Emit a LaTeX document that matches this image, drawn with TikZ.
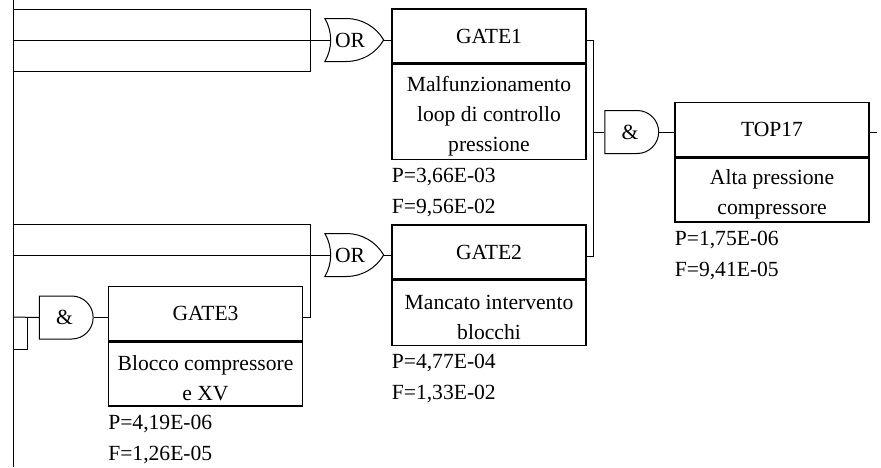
\documentclass[tikz,border=0pt]{standalone}
\usepackage{fontspec}
\setmainfont{Liberation Serif}
\usetikzlibrary{shapes.gates.logic.US}

\tikzset{
	head/.style={draw, line width=0.7pt, minimum width=97pt, minimum height=27pt, inner sep=0pt},
	desc/.style={draw, line width=0.7pt, minimum width=97pt, anchor=north, align=center, inner sep=0pt},
	prob/.style={anchor=north west, align=left, inner sep=0pt, yshift=-4pt, font=\fontsize{10.8}{15.5}\selectfont},
	orgate/.style={or gate US, draw, logic gate inputs=nnn, minimum width=28pt, minimum height=21.5pt, inner sep=0pt},
	andgate/.style={and gate US, draw, logic gate inputs=nnn, minimum width=26.5pt, minimum height=21.5pt, inner sep=0pt},
}

\begin{document}
\begin{tikzpicture}[x=0.5pt, y=-0.5pt, line width=0.5pt, font=\fontsize{10.8}{15}\selectfont]
	\useasboundingbox (0,0) rectangle (881,467);

	%left bus
	\coordinate (bustop) at (13,0);
	\coordinate (busbot) at (13,467);
	\draw (bustop) -- (busbot);

	%GATE1
	\node[orgate] (or1) at (350,40) {OR};
	\node[head] (gate1) at (489,36) {GATE1};
	\node[desc, minimum height=47.5pt] (gate1d) at (gate1.south) {\rule{0pt}{12pt}Malfunzionamento\\loop di controllo\\pressione};
	\node[prob] (gate1p) at (gate1d.south west) {P=3,66E-03\\F=9,56E-02};

	\coordinate (b1) at (13,9);
	\coordinate (b1m) at (13,40);
	\coordinate (b1b) at (13,71);
	\coordinate (j1) at (310,71);
	\draw (b1) -| (j1) -- (b1b);
	\draw (b1m) -- (or1.input 2);
	\draw (or1.output) -- (or1.output -| gate1.west);

	%GATE2
	\node[orgate] (or2) at (350,255) {OR};
	\node[head] (gate2) at (489,252) {GATE2};
	\node[desc, minimum height=32.5pt] (gate2d) at (gate2.south) {\rule{0pt}{12pt}Mancato intervento\\blocchi};
	\node[prob] (gate2p) at (gate2d.south west) {P=4,77E-04\\F=1,33E-02};

	%GATE3
	\node[andgate] (and3) at (64.5,317.5) {\&};
	\node[head] (gate3) at (205.5,313.5) {GATE3};
	\node[desc, minimum height=32pt] (gate3d) at (gate3.south) {\rule{0pt}{12pt}Blocco compressore\\e XV};
	\node[prob] (gate3p) at (gate3d.south west) {P=4,19E-06\\F=1,26E-05};

	\coordinate (b2) at (13,224);
	\coordinate (b2m) at (13,255);
	\coordinate (j2) at (310,317);
	\draw (b2) -| (j2) -- (j2 -| gate3.east);
	\draw (b2m) -- (or2.input 2);
	\draw (or2.output) -- (or2.output -| gate2.west);

	\coordinate (b3) at (13,317);
	\coordinate (b3b) at (13,349);
	\coordinate (k3) at (27,317);
	\draw (b3) -- (and3.input 2);
	\draw (b3b) -| (k3);
	\draw (and3.output) -- (and3.output -| gate3.west);

	%TOP17
	\node[andgate] (and1) at (630,132) {\&};
	\node[head] (top17) at (772,129.5) {TOP17};
	\node[desc, minimum height=32pt] (top17d) at (top17.south) {\rule{0pt}{12pt}Alta pressione\\compressore};
	\node[prob] (top17p) at (top17d.south west) {P=1,75E-06\\F=9,41E-05};

	\coordinate (j4a) at (593,40);
	\coordinate (j4b) at (593,256);
	\coordinate (j4) at (593,132);
	\draw (j4a -| gate1.east) -- (j4a) -- (j4b) -- (j4b -| gate2.east);
	\draw (j4) -- (and1.input 2);
	\draw (and1.output) -- (and1.output -| top17.west);
	\coordinate (out) at (877,132);
	\draw (out -| top17.east) -- (out);
\end{tikzpicture}
\end{document}
